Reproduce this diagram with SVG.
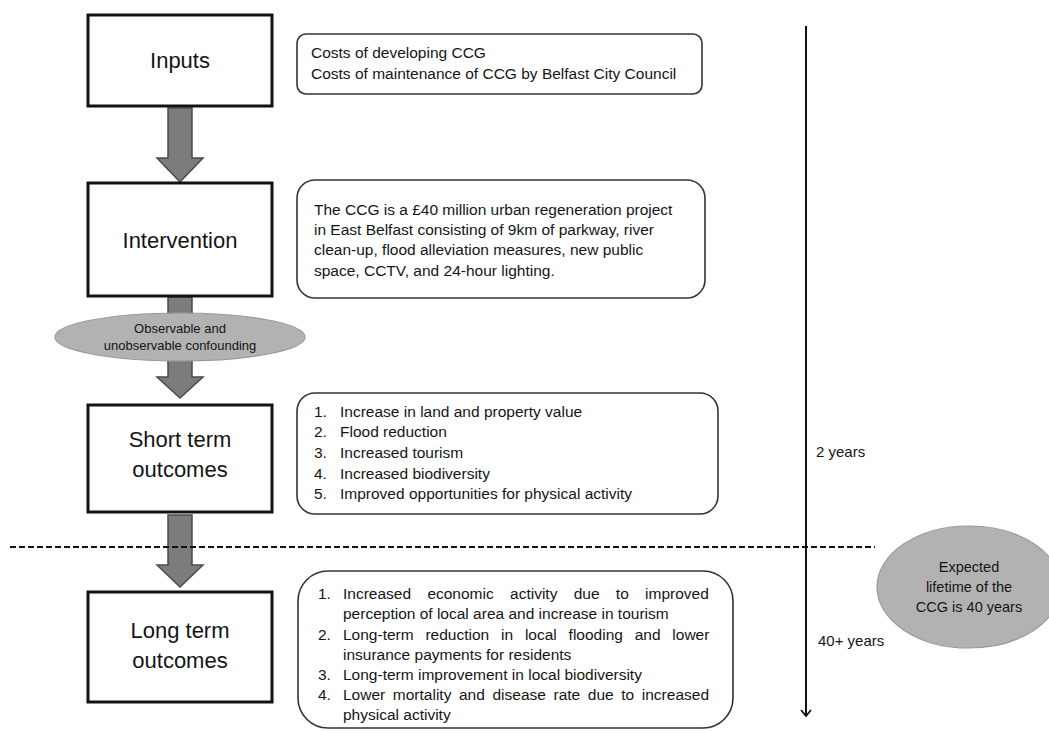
<svg xmlns="http://www.w3.org/2000/svg" width="1049" height="733" viewBox="0 0 1049 733">
<style>
.box{fill:#fff;stroke:#111;stroke-width:3}
.desc{fill:#fff;stroke:#333;stroke-width:1.6}
.arr{fill:#7c7c7c;stroke:#4a4a4a;stroke-width:1.5}
.ell{fill:#b2b2b2;stroke:#9a9a9a;stroke-width:1.2}
text{font-family:"Liberation Sans",Arial,sans-serif;fill:#151515}
.big{font-size:22px;text-anchor:middle}
.t{font-size:15.5px}
.sm{font-size:13px;text-anchor:middle}
.lbl{font-size:15px}
.el{font-size:14.5px;text-anchor:middle}
</style>
<defs>
<marker id="chev" viewBox="0 0 8 12" refX="7" refY="6" markerWidth="8" markerHeight="12" markerUnits="userSpaceOnUse" orient="auto">
<path d="M1,1 L7,6 L1,11" fill="none" stroke="#111" stroke-width="1.8"/>
</marker>
</defs>
<g id="connectors">
<path class="arr" d="M168,108 H192 V158 H203 L180,182 L157,158 H168 Z"/>
<path class="arr" d="M168,297 H192 V377 H203 L180,398 L157,377 H168 Z"/>
<path class="arr" d="M168,515 H192 V565 H203 L180,587 L157,565 H168 Z"/>
<line x1="10" y1="547" x2="875" y2="547" stroke="#111" stroke-width="2" stroke-dasharray="6,3"/>
<line x1="806" y1="26" x2="806" y2="716" stroke="#111" stroke-width="2" marker-end="url(#chev)"/>
</g>
<g id="inputs">
<rect class="box" x="88" y="15" width="184" height="91"/>
<text class="big" x="180" y="68">Inputs</text>
</g>
<g id="inputs-desc">
<rect class="desc" x="297" y="34" width="405" height="60" rx="9"/>
<text class="t" x="311" y="58">Costs of developing CCG</text>
<text class="t" x="311" y="79">Costs of maintenance of CCG by Belfast City Council</text>
</g>
<g id="intervention">
<rect class="box" x="88" y="183" width="184" height="113"/>
<text class="big" x="180" y="248">Intervention</text>
</g>
<g id="intervention-desc">
<rect class="desc" x="297" y="180" width="408" height="118" rx="18"/>
<text class="t" x="314" y="215">The CCG is a £40 million urban regeneration project</text>
<text class="t" x="314" y="235">in East Belfast consisting of 9km of parkway, river</text>
<text class="t" x="314" y="255">clean-up, flood alleviation measures, new public</text>
<text class="t" x="314" y="276">space, CCTV, and 24-hour lighting.</text>
</g>
<g id="confounding">
<ellipse class="ell" cx="180" cy="337" rx="125" ry="24"/>
<text class="sm" x="180" y="333">Observable and</text>
<text class="sm" x="180" y="350">unobservable confounding</text>
</g>
<g id="short-term">
<rect class="box" x="88" y="405" width="184" height="107"/>
<text class="big" x="180" y="447">Short term</text>
<text class="big" x="180" y="477">outcomes</text>
</g>
<g id="short-term-desc">
<rect class="desc" x="297" y="393" width="421" height="121" rx="18"/>
<text class="t" x="314" y="417">1.</text><text class="t" x="340" y="417">Increase in land and property value</text>
<text class="t" x="314" y="437">2.</text><text class="t" x="340" y="437">Flood reduction</text>
<text class="t" x="314" y="458">3.</text><text class="t" x="340" y="458">Increased tourism</text>
<text class="t" x="314" y="479">4.</text><text class="t" x="340" y="479">Increased biodiversity</text>
<text class="t" x="314" y="499">5.</text><text class="t" x="340" y="499">Improved opportunities for physical activity</text>
</g>
<g id="long-term">
<rect class="box" x="88" y="592" width="184" height="110"/>
<text class="big" x="180" y="638">Long term</text>
<text class="big" x="180" y="668">outcomes</text>
</g>
<g id="long-term-desc">
<rect class="desc" x="298" y="571" width="435" height="157" rx="30"/>
<text class="t" x="318" y="599">1.</text><text class="t" x="343" y="599" word-spacing="12">Increased economic activity due to improved</text>
<text class="t" x="343" y="619">perception of local area and increase in tourism</text>
<text class="t" x="318" y="640">2.</text><text class="t" x="343" y="640" word-spacing="7.5">Long-term reduction in local flooding and lower</text>
<text class="t" x="343" y="660">insurance payments for residents</text>
<text class="t" x="318" y="680">3.</text><text class="t" x="343" y="680">Long-term improvement in local biodiversity</text>
<text class="t" x="318" y="700">4.</text><text class="t" x="343" y="700" word-spacing="3.3">Lower mortality and disease rate due to increased</text>
<text class="t" x="343" y="720">physical activity</text>
</g>
<g id="timeline-labels">
<text class="lbl" x="816" y="457">2 years</text>
<text class="lbl" x="818" y="646">40+ years</text>
</g>
<g id="lifetime">
<ellipse class="ell" cx="969" cy="587" rx="92" ry="61"/>
<text class="el" x="969" y="572">Expected</text>
<text class="el" x="969" y="592">lifetime of the</text>
<text class="el" x="969" y="612">CCG is 40 years</text>
</g>
</svg>
